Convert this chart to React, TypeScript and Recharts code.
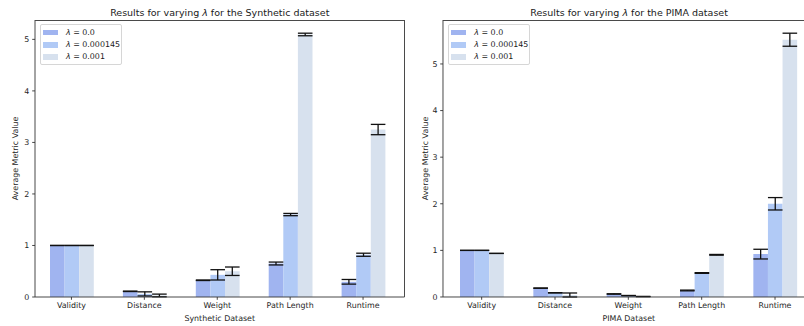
import { BarChart, Bar, XAxis, YAxis, ErrorBar } from "recharts";

const categories = ["Validity", "Distance", "Weight", "Path Length", "Runtime"];
const lambdaLabels = ["0.0", "0.000145", "0.001"];
const barColors = ["#a0b4f0", "#b1caf6", "#d7e1ee"];
const yTicks = [0, 1, 2, 3, 4, 5];

// Synthetic dataset: means and std per lambda
const synthLam0 = [1.0, 0.11, 0.325, 0.65, 0.295];
const synthErr0 = [0.001, 0.004, 0.005, 0.028, 0.045];
const synthLam1 = [1.0, 0.06, 0.43, 1.6, 0.82];
const synthErr1 = [0.001, 0.04, 0.1, 0.022, 0.03];
const synthLam2 = [1.0, 0.03, 0.5, 5.095, 3.25];
const synthErr2 = [0.001, 0.026, 0.082, 0.025, 0.1];

// PIMA dataset
const pimaLam0 = [1.0, 0.19, 0.065, 0.14, 0.92];
const pimaErr0 = [0.001, 0.003, 0.004, 0.008, 0.104];
const pimaLam1 = [1.0, 0.09, 0.03, 0.515, 2.0];
const pimaErr1 = [0.001, 0.003, 0.003, 0.008, 0.133];
const pimaLam2 = [0.935, 0.043, 0.01, 0.905, 5.52];
const pimaErr2 = [0.001, 0.043, 0.003, 0.008, 0.14];

const FONT = "'DejaVu Sans', sans-serif";

function buildRows(vals: number[][], errs: number[][]) {
  return categories.map((cat, i) => ({
    cat,
    v0: vals[0][i],
    v1: vals[1][i],
    v2: vals[2][i],
    e0: errs[0][i],
    e1: errs[1][i],
    e2: errs[2][i],
  }));
}

function topOf(vals: number[][], errs: number[][]) {
  let m = 0;
  vals.forEach((s, k) => s.forEach((v, i) => (m = Math.max(m, v + errs[k][i]))));
  return m * 1.05;
}

const synthRows = buildRows([synthLam0, synthLam1, synthLam2], [synthErr0, synthErr1, synthErr2]);
const pimaRows = buildRows([pimaLam0, pimaLam1, pimaLam2], [pimaErr0, pimaErr1, pimaErr2]);
const synthTop = topOf([synthLam0, synthLam1, synthLam2], [synthErr0, synthErr1, synthErr2]);
const pimaTop = topOf([pimaLam0, pimaLam1, pimaLam2], [pimaErr0, pimaErr1, pimaErr2]);

const tickStyle = { fontSize: 7.9, fill: "#262626", fontFamily: FONT };
const spine = { stroke: "#333", strokeWidth: 0.9 };

function Lambda() {
  return <span style={{ fontStyle: "italic" }}>λ</span>;
}

function LegendBox({ left, top }: { left: number; top: number }) {
  return (
    <div
      style={{
        position: "absolute",
        left,
        top,
        width: 82,
        height: 41,
        border: "1px solid #d6d6d6",
        borderRadius: 2,
        background: "rgba(255,255,255,0.8)",
        boxSizing: "border-box",
        fontFamily: FONT,
        fontSize: 7.9,
        color: "#1a1a1a",
      }}
    >
      {lambdaLabels.map((lab, i) => (
        <div
          key={lab}
          style={{ position: "absolute", left: 2.5, top: 3 + i * 12.3, height: 10, display: "flex", alignItems: "center" }}
        >
          <div style={{ width: 15, height: 5.5, background: barColors[i] }} />
          <div style={{ marginLeft: 8, whiteSpace: "nowrap", lineHeight: "10px" }}>
            <Lambda /> = {lab}
          </div>
        </div>
      ))}
    </div>
  );
}

interface PanelProps {
  rows: typeof synthRows;
  top: number;
  left: number;
  width: number;
  title: string;
  xLabel: string;
  padding: { left: number; right: number };
  yLabelDx: number;
}

function Panel({ rows, top, left, width, title, xLabel, padding, yLabelDx }: PanelProps) {
  const plotLeft = left + 35;
  const plotWidth = width - 35;
  const plotCenter = plotLeft + plotWidth / 2;
  return (
    <>
      <div
        style={{
          position: "absolute",
          left: plotCenter - 200,
          width: 400,
          top: 8,
          textAlign: "center",
          fontFamily: FONT,
          fontSize: 9.5,
          lineHeight: "10px",
          color: "#1a1a1a",
          whiteSpace: "nowrap",
        }}
      >
        Results for varying <Lambda /> for the {title} dataset
      </div>
      <div style={{ position: "absolute", left, top: 0 }}>
        <BarChart
          width={width}
          height={326}
          data={rows}
          margin={{ top: 20, right: 0, bottom: 0, left: 0 }}
          barSize={14.6}
          barGap={0}
          style={{ fontFamily: FONT }}
        >
          <XAxis
            dataKey="cat"
            type="category"
            height={29}
            padding={padding}
            tick={tickStyle}
            tickSize={2.8}
            tickMargin={2.8}
            tickLine={spine}
            axisLine={spine}
            interval={0}
            label={{ value: xLabel, position: "insideBottom", offset: 5, style: { ...tickStyle } }}
          />
          <YAxis
            width={35}
            domain={[0, top]}
            ticks={yTicks}
            type="number"
            tick={tickStyle}
            tickSize={2.8}
            tickMargin={2.8}
            tickLine={spine}
            axisLine={spine}
            allowDataOverflow
            label={{
              value: "Average Metric Value",
              angle: -90,
              position: "center",
              dx: yLabelDx,
              style: { ...tickStyle },
            }}
          />
          <Bar dataKey="v0" fill={barColors[0]} isAnimationActive={false}>
            <ErrorBar dataKey="e0" width={7.3} stroke="#111" strokeWidth={1.3} direction="y" />
          </Bar>
          <Bar dataKey="v1" fill={barColors[1]} isAnimationActive={false}>
            <ErrorBar dataKey="e1" width={7.3} stroke="#111" strokeWidth={1.3} direction="y" />
          </Bar>
          <Bar dataKey="v2" fill={barColors[2]} isAnimationActive={false}>
            <ErrorBar dataKey="e2" width={7.3} stroke="#111" strokeWidth={1.3} direction="y" />
          </Bar>
        </BarChart>
      </div>
      {/* top and right spines of the axes box */}
      <div
        style={{
          position: "absolute",
          left: plotLeft,
          top: 20,
          width: plotWidth,
          height: 277,
          borderTop: "1px solid #4a4a4a",
          borderRight: "1px solid #4a4a4a",
          boxSizing: "border-box",
          pointerEvents: "none",
        }}
      />
      <LegendBox left={plotLeft + 4.5} top={23.5} />
    </>
  );
}

export default function App() {
  return (
    <div
      style={{
        position: "absolute",
        left: 0,
        top: 0,
        width: 804,
        height: 326,
        overflow: "hidden",
        background: "#fff",
      }}
    >
      <Panel
        rows={synthRows}
        top={synthTop}
        left={0}
        width={404.5}
        title="Synthetic"
        xLabel="Synthetic Dataset"
        padding={{ left: 0, right: 5 }}
        yLabelDx={-2.5}
      />
      <Panel
        rows={pimaRows}
        top={pimaTop}
        left={408.3}
        width={406.7}
        title="PIMA"
        xLabel="PIMA Dataset"
        padding={{ left: 2, right: 3 }}
        yLabelDx={-0.8}
      />
    </div>
  );
}
